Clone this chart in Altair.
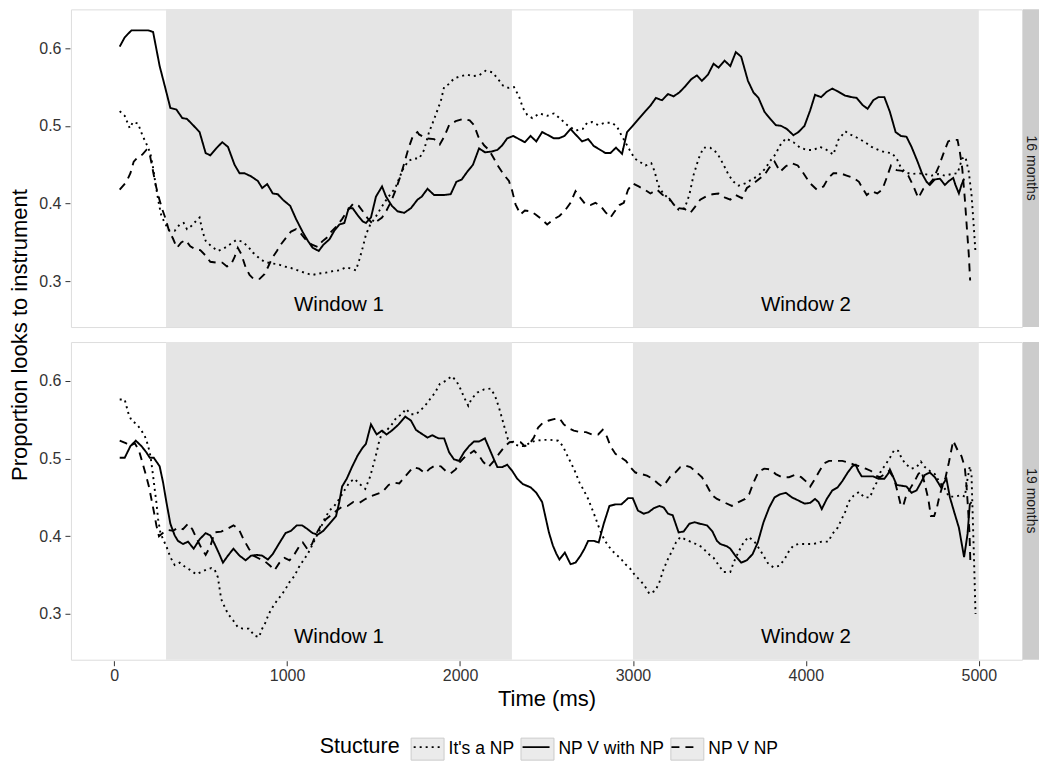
import altair as alt
import pandas as pd

FONT = "Liberation Sans"

structures = ["It's a NP", "NP V with NP", "NP V NP"]
ages = ["16 months", "19 months"]

# ---- 16 months ----
m16_its_np = [(32,0.519),(61,0.513),(90,0.497),(109,0.505),(138,0.503),(163,0.488),(186,0.477),(209,0.465),(225,0.446),(240,0.424),(256,0.403),(271,0.386),(292,0.375),(321,0.365),(350,0.365),(379,0.373),(402,0.375),(421,0.367),(446,0.371),(475,0.378),(494,0.382),(510,0.365),(529,0.352),(562,0.345),(600,0.339),(633,0.342),(667,0.347),(706,0.353),(740,0.351),(773,0.345),(802,0.337),(837,0.330),(869,0.325),(908,0.323),(946,0.322),(985,0.319),(1023,0.317),(1062,0.314),(1100,0.311),(1144,0.308),(1187,0.310),(1225,0.311),(1264,0.313),(1302,0.314),(1341,0.318),(1375,0.316),(1398,0.314),(1418,0.328),(1437,0.343),(1456,0.360),(1479,0.372),(1510,0.382),(1537,0.392),(1568,0.403),(1597,0.412),(1626,0.420),(1649,0.433),(1672,0.445),(1702,0.455),(1735,0.458),(1764,0.458),
  (1792,0.469),(1821,0.492),(1844,0.505),(1869,0.520),(1889,0.532),(1908,0.550),(1937,0.554),(1965,0.561),(2004,0.564),(2042,0.566),(2075,0.564),(2110,0.565),(2148,0.571),(2187,0.569),(2221,0.560),(2248,0.552),(2279,0.549),(2312,0.550),(2341,0.538),(2364,0.523),(2389,0.514),(2418,0.510),(2460,0.516),(2504,0.513),(2543,0.516),(2581,0.509),(2620,0.501),(2668,0.494),(2710,0.496),(2735,0.504),(2764,0.505),(2799,0.501),(2837,0.504),(2879,0.504),(2908,0.499),(2933,0.488),(2956,0.479),(2981,0.469),(3010,0.458),(3037,0.454),(3072,0.449),(3106,0.452),(3126,0.441),(3145,0.424),(3172,0.414),(3203,0.407),(3235,0.399),(3264,0.392),(3299,0.394),(3326,0.411),(3351,0.437),(3380,0.458),(3408,0.472),(3447,0.472),(3476,0.467),
  (3492,0.463),(3524,0.450),(3553,0.437),(3582,0.428),(3611,0.423),(3649,0.426),(3688,0.431),(3726,0.436),(3765,0.445),(3794,0.455),(3823,0.463),(3851,0.475),(3884,0.484),(3928,0.479),(3967,0.472),(4005,0.469),(4044,0.469),(4082,0.473),(4121,0.469),(4159,0.463),(4188,0.482),(4227,0.493),(4265,0.488),(4303,0.484),(4342,0.479),(4380,0.473),(4419,0.469),(4457,0.466),(4496,0.465),(4525,0.458),(4550,0.446),(4577,0.440),(4611,0.438),(4650,0.439),(4688,0.438),(4727,0.436),(4765,0.438),(4804,0.436),(4842,0.438),(4877,0.439),(4904,0.458),(4923,0.460),(4942,0.441),(4958,0.411),(4969,0.377),(4981,0.337)]

m16_npv_with_np = [(32,0.602),(61,0.614),(100,0.623),(196,0.623),(225,0.621),(263,0.577),(292,0.552),(325,0.523),(360,0.521),(394,0.510),(421,0.509),(456,0.501),(494,0.492),(529,0.465),(556,0.462),(590,0.471),(625,0.479),(658,0.473),(696,0.450),(725,0.439),(754,0.439),(792,0.435),(831,0.429),(856,0.420),(885,0.425),(917,0.413),(946,0.412),(975,0.405),(1018,0.397),(1052,0.380),(1091,0.363),(1120,0.352),(1148,0.343),(1183,0.339),(1210,0.347),(1245,0.354),(1273,0.365),(1302,0.373),(1331,0.375),(1356,0.394),(1379,0.394),(1408,0.385),(1437,0.377),(1456,0.375),(1485,0.382),(1514,0.409),(1549,0.422),(1572,0.409),(1606,0.397),(1639,0.390),(1677,0.388),(1716,0.394),(1754,0.405),
  (1779,0.409),(1812,0.419),(1850,0.411),(1908,0.411),(1946,0.412),(1979,0.428),(2010,0.431),(2042,0.441),(2075,0.450),(2110,0.471),(2144,0.466),(2183,0.467),(2216,0.469),(2244,0.475),(2273,0.484),(2308,0.487),(2341,0.483),(2375,0.479),(2408,0.487),(2441,0.480),(2475,0.492),(2510,0.488),(2543,0.484),(2572,0.484),(2604,0.487),(2639,0.496),(2672,0.488),(2706,0.480),(2741,0.483),(2774,0.474),(2812,0.469),(2841,0.465),(2870,0.465),(2902,0.472),(2937,0.464),(2966,0.492),(2995,0.499),(3033,0.509),(3072,0.519),(3101,0.526),(3133,0.536),(3168,0.533),(3203,0.541),(3235,0.538),(3268,0.543),(3303,0.551),(3337,0.560),(3370,0.565),(3399,0.558),(3434,0.566),(3466,0.580),(3495,0.575),
  (3530,0.584),(3563,0.577),(3595,0.595),(3626,0.589),(3665,0.558),(3697,0.543),(3726,0.536),(3761,0.518),(3794,0.509),(3826,0.501),(3857,0.500),(3890,0.496),(3928,0.488),(3957,0.492),(3992,0.500),(4025,0.520),(4053,0.540),(4088,0.537),(4121,0.544),(4153,0.548),(4188,0.544),(4227,0.539),(4265,0.537),(4294,0.536),(4327,0.527),(4357,0.522),(4390,0.533),(4419,0.537),(4454,0.537),(4486,0.518),(4519,0.492),(4550,0.487),(4582,0.486),(4611,0.473),(4646,0.454),(4673,0.438),(4698,0.428),(4717,0.424),(4746,0.431),(4775,0.432),(4804,0.424),(4827,0.429),(4852,0.433),(4865,0.424),(4885,0.413),(4900,0.424),(4915,0.432)]

m16_npv_np = [(32,0.418),(71,0.428),(94,0.439),(113,0.454),(138,0.460),(163,0.463),(186,0.469),(206,0.463),(221,0.446),(240,0.424),(259,0.407),(279,0.392),(298,0.380),(317,0.365),(340,0.355),(363,0.343),(388,0.350),(413,0.353),(440,0.345),(471,0.341),(498,0.340),(529,0.333),(556,0.325),(590,0.324),(625,0.324),(652,0.319),(675,0.321),(696,0.331),(715,0.343),(735,0.335),(760,0.318),(783,0.308),(806,0.303),(841,0.303),(869,0.309),(889,0.318),(914,0.330),(941,0.339),(966,0.348),(994,0.356),(1023,0.364),(1052,0.367),(1081,0.361),(1110,0.353),(1144,0.347),(1177,0.344),(1202,0.351),(1229,0.356),(1256,0.364),(1287,0.371),(1318,0.380),(1350,0.391),(1383,0.400),(1414,0.397),(1441,0.389),(1466,0.381),(1491,0.375),(1518,0.377),(1549,0.382),(1575,0.391),(1602,0.403),(1629,0.418),(1652,0.433),(1675,0.450),(1702,0.471),(1729,0.488),(1754,0.492),
  (1763,0.489),(1802,0.484),(1850,0.483),(1883,0.476),(1908,0.486),(1937,0.501),(1975,0.506),(2017,0.509),(2056,0.507),(2081,0.501),(2106,0.486),(2139,0.475),(2167,0.469),(2196,0.458),(2221,0.448),(2254,0.437),(2283,0.429),(2302,0.416),(2321,0.399),(2350,0.386),(2375,0.391),(2408,0.390),(2437,0.386),(2466,0.381),(2504,0.373),(2543,0.380),(2575,0.384),(2610,0.392),(2639,0.401),(2668,0.416),(2697,0.407),(2725,0.399),(2754,0.398),(2783,0.401),(2812,0.397),(2841,0.389),(2870,0.382),(2895,0.390),(2922,0.398),(2947,0.401),(2972,0.418),(2999,0.426),(3033,0.422),(3068,0.418),(3101,0.413),(3139,0.418),(3172,0.411),(3206,0.408),(3235,0.399),(3264,0.394),(3299,0.393),(3332,0.388),(3360,0.396),(3389,0.405),(3422,0.409),(3460,0.412),(3495,0.413),
  (3530,0.408),(3563,0.405),(3595,0.411),(3630,0.407),(3659,0.420),(3692,0.425),(3726,0.431),(3761,0.437),(3788,0.446),(3819,0.454),(3851,0.441),(3884,0.448),(3919,0.452),(3953,0.449),(3986,0.439),(4025,0.426),(4063,0.418),(4102,0.422),(4130,0.433),(4159,0.439),(4198,0.439),(4236,0.436),(4275,0.433),(4307,0.428),(4332,0.418),(4352,0.411),(4380,0.416),(4413,0.413),(4442,0.418),(4467,0.433),(4492,0.449),(4525,0.443),(4557,0.442),(4592,0.436),(4621,0.423),(4650,0.407),(4679,0.419),(4708,0.424),(4736,0.431),(4769,0.448),(4800,0.467),(4823,0.480),(4846,0.482),(4877,0.482),(4890,0.467),(4904,0.446),(4919,0.407),(4931,0.369),(4942,0.335),(4950,0.301)]

# ---- 19 months ----
m19_its_np = [(32,0.576),(61,0.576),(81,0.559),(100,0.549),(132,0.544),(158,0.536),(177,0.529),(190,0.521),(206,0.508),(215,0.495),(225,0.478),(234,0.461),(244,0.444),(254,0.422),(267,0.405),(283,0.396),(302,0.387),(325,0.373),(350,0.363),(379,0.366),(408,0.361),(436,0.357),(475,0.351),(504,0.354),(533,0.357),(562,0.359),(581,0.357),(600,0.347),(610,0.332),(619,0.319),(639,0.309),(658,0.300),(687,0.292),(715,0.283),(744,0.281),(779,0.281),(812,0.272),(837,0.270),(856,0.281),(875,0.289),(894,0.300),(917,0.309),(941,0.317),(966,0.324),(991,0.332),(1014,0.341),(1043,0.349),(1068,0.360),(1094,0.369),(1119,0.377),(1144,0.388),(1168,0.399),(1191,0.409),(1216,0.422),(1245,0.433),(1273,0.439),(1302,0.448),(1337,0.461),(1360,0.469),(1389,0.474),(1421,0.467),(1452,0.461),(1479,0.476),(1498,0.491),(1518,0.508),(1533,0.523),(1549,0.533),(1575,0.536),(1606,0.544),(1633,0.553),(1664,0.557),(1687,0.564),(1716,0.557),(1745,0.557),
  (1767,0.561),(1798,0.568),(1825,0.576),(1856,0.585),(1883,0.596),(1917,0.600),(1952,0.606),(1979,0.600),(2004,0.589),(2023,0.579),(2048,0.568),(2067,0.577),(2100,0.585),(2139,0.589),(2177,0.590),(2202,0.581),(2225,0.566),(2244,0.551),(2260,0.538),(2277,0.525),(2312,0.519),(2344,0.516),(2375,0.516),(2408,0.521),(2441,0.523),(2479,0.524),(2523,0.524),(2568,0.523),(2595,0.516),(2620,0.504),(2645,0.493),(2668,0.482),(2691,0.469),(2716,0.459),(2741,0.448),(2764,0.435),(2783,0.424),(2799,0.414),(2822,0.401),(2845,0.392),(2870,0.384),(2899,0.377),(2927,0.372),(2956,0.364),(2985,0.358),(3014,0.349),(3043,0.343),(3068,0.336),(3095,0.326),(3130,0.330),(3153,0.341),(3178,0.358),(3203,0.371),(3226,0.381),(3249,0.392),(3274,0.399),(3303,0.396),(3332,0.393),(3364,0.390),(3399,0.386),
  (3438,0.377),(3467,0.372),(3495,0.363),(3524,0.354),(3563,0.354),(3582,0.366),(3611,0.380),(3640,0.392),(3669,0.399),(3703,0.393),(3730,0.384),(3755,0.375),(3784,0.364),(3813,0.360),(3846,0.362),(3876,0.370),(3903,0.381),(3928,0.388),(3957,0.390),(3996,0.390),(4044,0.390),(4092,0.393),(4130,0.393),(4153,0.403),(4184,0.411),(4207,0.422),(4227,0.431),(4246,0.444),(4275,0.452),(4307,0.457),(4338,0.450),(4371,0.450),(4390,0.461),(4409,0.469),(4434,0.484),(4457,0.491),(4486,0.501),(4511,0.511),(4534,0.510),(4557,0.499),(4582,0.492),(4611,0.487),(4640,0.489),(4665,0.496),(4688,0.489),(4717,0.484),(4746,0.480),(4775,0.469),(4804,0.461),(4827,0.451),(4861,0.451),(4900,0.453),(4919,0.451),(4935,0.474),(4948,0.490),(4958,0.478),(4965,0.426),(4973,0.366),(4981,0.300)]

m19_npv_with_np = [(32,0.501),(61,0.501),(94,0.516),(125,0.523),(158,0.516),(186,0.508),(206,0.501),(229,0.501),(263,0.490),(283,0.469),(302,0.444),(325,0.416),(350,0.401),(369,0.394),(398,0.390),(427,0.393),(460,0.384),(494,0.396),(529,0.404),(556,0.401),(581,0.390),(606,0.378),(629,0.366),(658,0.375),(690,0.384),(725,0.375),(760,0.369),(792,0.375),(825,0.376),(856,0.375),(889,0.370),(917,0.377),(952,0.390),(991,0.404),(1023,0.407),(1056,0.414),(1087,0.414),(1119,0.409),(1148,0.404),(1177,0.402),(1210,0.407),(1245,0.416),(1283,0.426),(1302,0.444),(1318,0.464),(1345,0.474),(1375,0.489),(1408,0.504),(1437,0.514),(1456,0.519),(1485,0.544),(1518,0.531),(1549,0.536),(1575,0.531),(1606,0.536),(1645,0.544),(1683,0.554),(1716,0.549),(1745,0.537),(1764,0.534),
  (1812,0.527),(1840,0.530),(1875,0.526),(1908,0.526),(1937,0.508),(1965,0.499),(1994,0.497),(2023,0.508),(2052,0.516),(2081,0.522),(2110,0.522),(2144,0.526),(2171,0.512),(2196,0.499),(2216,0.489),(2244,0.489),(2273,0.492),(2302,0.484),(2331,0.474),(2364,0.467),(2408,0.463),(2441,0.456),(2475,0.444),(2495,0.424),(2514,0.405),(2537,0.388),(2556,0.378),(2575,0.370),(2606,0.379),(2639,0.364),(2668,0.366),(2697,0.375),(2720,0.384),(2741,0.394),(2774,0.394),(2802,0.392),(2831,0.416),(2864,0.439),(2899,0.441),(2933,0.441),(2972,0.449),(2999,0.449),(3029,0.433),(3062,0.429),(3091,0.431),(3120,0.436),(3153,0.439),(3178,0.437),(3203,0.429),(3230,0.427),(3264,0.405),(3293,0.406),(3326,0.416),(3356,0.418),(3389,0.416),(3428,0.414),(3460,0.406),
  (3486,0.394),(3505,0.390),(3544,0.387),(3563,0.384),(3592,0.375),(3626,0.366),(3659,0.369),(3692,0.377),(3722,0.392),(3755,0.418),(3788,0.437),(3819,0.450),(3851,0.454),(3884,0.456),(3919,0.450),(3957,0.446),(3992,0.442),(4025,0.443),(4053,0.448),(4073,0.444),(4092,0.435),(4121,0.448),(4153,0.459),(4184,0.463),(4211,0.471),(4242,0.482),(4269,0.490),(4288,0.492),(4304,0.484),(4323,0.477),(4361,0.477),(4390,0.477),(4419,0.474),(4454,0.474),(4477,0.481),(4486,0.486),(4502,0.478),(4525,0.466),(4554,0.465),(4582,0.464),(4611,0.456),(4640,0.459),(4665,0.469),(4688,0.479),(4717,0.482),(4746,0.476),(4781,0.463),(4813,0.474),(4833,0.450),(4858,0.431),(4885,0.411),(4915,0.373),(4935,0.403),(4948,0.441),(4958,0.444)]

m19_npv_np = [(32,0.523),(67,0.520),(94,0.516),(119,0.520),(144,0.510),(163,0.495),(182,0.480),(202,0.463),(217,0.446),(232,0.429),(244,0.414),(259,0.400),(286,0.405),(311,0.408),(340,0.407),(369,0.411),(398,0.409),(427,0.416),(452,0.409),(479,0.396),(506,0.384),(529,0.376),(556,0.387),(581,0.405),(619,0.406),(658,0.410),(690,0.414),(721,0.409),(748,0.396),(779,0.384),(806,0.375),(840,0.371),(875,0.367),(902,0.362),(927,0.356),(956,0.366),(985,0.372),(1014,0.369),(1043,0.377),(1068,0.386),(1091,0.392),(1119,0.383),(1144,0.390),(1168,0.403),(1196,0.414),(1225,0.422),(1254,0.427),(1287,0.433),(1318,0.438),(1350,0.439),(1383,0.444),(1418,0.443),(1446,0.447),(1479,0.451),(1514,0.454),(1552,0.457),(1587,0.466),(1620,0.469),(1649,0.468),(1672,0.474),(1702,0.482),(1729,0.489),
  (1763,0.487),(1798,0.481),(1825,0.487),(1856,0.491),(1889,0.490),(1917,0.484),(1946,0.481),(1975,0.486),(1998,0.495),(2023,0.501),(2056,0.506),(2081,0.510),(2110,0.504),(2133,0.496),(2164,0.489),(2196,0.497),(2225,0.506),(2260,0.516),(2287,0.521),(2321,0.522),(2350,0.521),(2375,0.516),(2402,0.519),(2427,0.527),(2452,0.540),(2479,0.546),(2514,0.549),(2548,0.551),(2575,0.552),(2600,0.544),(2629,0.539),(2658,0.536),(2697,0.534),(2729,0.534),(2764,0.531),(2799,0.531),(2825,0.537),(2850,0.528),(2870,0.516),(2899,0.506),(2933,0.501),(2960,0.497),(2985,0.489),(3014,0.482),(3049,0.480),(3081,0.478),(3114,0.474),(3145,0.468),(3168,0.464),(3191,0.469),(3216,0.477),(3245,0.482),(3274,0.489),(3303,0.491),(3332,0.489),(3360,0.484),(3389,0.478),
  (3399,0.476),(3428,0.465),(3457,0.453),(3486,0.448),(3524,0.444),(3572,0.439),(3611,0.444),(3649,0.448),(3672,0.454),(3697,0.469),(3726,0.483),(3759,0.487),(3794,0.486),(3826,0.480),(3861,0.476),(3903,0.476),(3938,0.479),(3973,0.476),(3999,0.471),(4025,0.464),(4053,0.474),(4076,0.483),(4107,0.494),(4134,0.497),(4173,0.497),(4211,0.497),(4246,0.495),(4280,0.492),(4313,0.490),(4346,0.487),(4377,0.484),(4404,0.478),(4429,0.476),(4457,0.480),(4480,0.484),(4500,0.478),(4519,0.467),(4538,0.450),(4550,0.439),(4563,0.439),(4577,0.450),(4602,0.461),(4627,0.470),(4650,0.480),(4669,0.484),(4688,0.467),(4708,0.448),(4723,0.426),(4742,0.426),(4758,0.437),(4773,0.452),(4788,0.463),(4808,0.476),(4827,0.495),(4852,0.523),(4877,0.511),(4900,0.503),(4919,0.489),(4929,0.465),(4938,0.435),(4946,0.405),(4952,0.362)]

window_starts = [300, 3000]
window_ends = [2300, 5000]
window_labels = ["Window 1", "Window 2"]
window_label_time = [1300, 4000]
window_label_value = 0.27

series = [
    ("16 months", "It's a NP", m16_its_np),
    ("16 months", "NP V with NP", m16_npv_with_np),
    ("16 months", "NP V NP", m16_npv_np),
    ("19 months", "It's a NP", m19_its_np),
    ("19 months", "NP V with NP", m19_npv_with_np),
    ("19 months", "NP V NP", m19_npv_np),
]

rows = []
for age, struct, pts in series:
    for t, v in pts:
        rows.append({"kind": "line", "age": age, "structure": struct, "time": t, "value": v})
for age in ages:
    for s, e, lab, c in zip(window_starts, window_ends, window_labels, window_label_time):
        rows.append({"kind": "window", "age": age, "x1": s, "x2": e, "label": lab,
                     "time": c, "value": window_label_value})
    rows.append({"kind": "strip", "age": age})
df = pd.DataFrame(rows)

W, H = 952, 318
STRIP = 16
LEG_X, LEG_Y = 249, 723
LEG_TITLE_W = 80.07 + 10  # width of the legend title "Stucture" + its padding

xs = alt.Scale(domain=[-250, 5250], nice=False, zero=False)
ys = alt.Scale(domain=[0.241, 0.650], nice=False, zero=False)

xaxis = alt.Axis(title="Time (ms)", values=[0, 1000, 2000, 3000, 4000, 5000], format="d",
                 grid=False, domain=False, ticks=True, tickSize=5, tickColor="#333333",
                 labelFont=FONT, labelFontSize=16, labelColor="#333333", labelPadding=2,
                 titleFont=FONT, titleFontSize=22, titleFontWeight="normal", titleColor="black",
                 titlePadding=5)
yaxis = alt.Axis(title=None, values=[0.3, 0.4, 0.5, 0.6], format=".1f",
                 grid=False, domain=False, ticks=True, tickSize=5, tickColor="#333333",
                 labelFont=FONT, labelFontSize=16, labelColor="#333333", labelPadding=4)

shade = alt.Chart().mark_rect(color="#e5e5e5").encode(
    x=alt.X("x1:Q", scale=xs, axis=xaxis),
    x2="x2:Q",
    y=alt.value(0),
    y2=alt.value(H),
).transform_filter(alt.datum.kind == "window")

strip_bg = alt.Chart().mark_rect(color="#cccccc").encode(
    x=alt.value(W + 1), x2=alt.value(W + 1 + STRIP), y=alt.value(0), y2=alt.value(H)
).transform_filter(alt.datum.kind == "strip")

strip_txt = alt.Chart().mark_text(angle=90, font=FONT, fontSize=14, color="#1a1a1a",
                                  baseline="middle", align="center").encode(
    x=alt.value(W + 1 + STRIP / 2), y=alt.value(H / 2), text="age:N"
).transform_filter(alt.datum.kind == "strip")

# legend key boxes (grey backgrounds) + visible title/labels, drawn under the line-style legend
key_ids = ["k1", "k2", "k3"]
key_label_expr = " : ".join(
    f'datum.label == "{k}" ? "{s}"' for k, s in zip(key_ids[:-1], structures[:-1])
) + f' : "{structures[-1]}"'

keys = alt.Chart().mark_square(opacity=1).encode(
    fill=alt.Fill(
        "structure_key:N",
        scale=alt.Scale(domain=key_ids, range=["#ebebeb", "#ebebeb", "#ebebeb"]),
        legend=alt.Legend(title="Stucture", orient="none", legendX=LEG_X, legendY=LEG_Y,
                          direction="horizontal", titleOrient="left", titleFont=FONT,
                          titleFontSize=21.5, titleFontWeight="normal", titleColor="black",
                          titlePadding=10, labelFont=FONT, labelFontSize=17.5,
                          labelColor="black", labelExpr=key_label_expr,
                          symbolType="M-1,-0.667H1V0.667H-1Z",
                          symbolSize=1089, symbolStrokeColor="#cccccc", symbolStrokeWidth=1,
                          symbolOpacity=1, labelOffset=4, columnPadding=4, zindex=0),
    ),
).transform_filter("false")

lines = alt.Chart().mark_line(color="black", strokeWidth=1.9).encode(
    x=alt.X("time:Q", scale=xs, axis=xaxis),
    y=alt.Y("value:Q", scale=ys, axis=yaxis),
    strokeDash=alt.StrokeDash(
        "structure:N",
        scale=alt.Scale(domain=structures, range=[[2, 4], [1, 0], [8, 6]]),
        legend=alt.Legend(title=None, orient="none", legendX=LEG_X + LEG_TITLE_W + 3,
                          legendY=LEG_Y + 1, direction="horizontal", labelFont=FONT,
                          labelFontSize=17.5, labelOpacity=0,
                          symbolType="stroke", symbolSize=729, symbolStrokeWidth=1.9,
                          symbolStrokeColor="black", labelOffset=7, columnPadding=4, zindex=1),
    ),
    detail="structure:N",
    order="time:Q",
).transform_filter(alt.datum.kind == "line")

wtext = alt.Chart().mark_text(font=FONT, fontSize=20.5, color="black").encode(
    x=alt.X("time:Q", scale=xs, axis=xaxis),
    y=alt.Y("value:Q", scale=ys, axis=yaxis),
    text="label:N",
).transform_filter(alt.datum.kind == "window")

panel = alt.layer(shade, strip_bg, strip_txt, keys, lines, wtext, data=df).properties(width=W, height=H)

chart = panel.facet(
    row=alt.Row("age:N", sort=ages,
                header=alt.Header(title="Proportion looks to instrument", labels=False,
                                  labelPadding=0,
                                  titleFont=FONT, titleFontSize=22, titleFontWeight="normal",
                                  titleColor="black", titleOrient="left", titlePadding=-4)),
    spacing=13,
).configure_view(stroke="#999999", strokeWidth=1).configure(padding=0, background="white")

chart.save("out.html", embed_options={"renderer": "svg", "actions": False})
